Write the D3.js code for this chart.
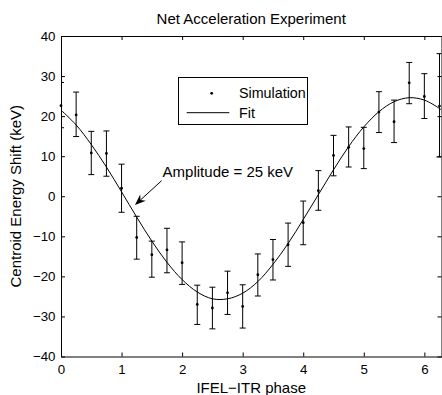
<!DOCTYPE html>
<html><head><meta charset="utf-8">
<script src="https://cdn.jsdelivr.net/npm/d3@7"></script>
<style>
html,body{margin:0;padding:0;background:#fff;}
svg{display:block;font-family:"Liberation Sans",Arial,sans-serif;}
</style></head>
<body><svg id="c" width="442" height="395"></svg>
<script>
// ---- data ----
const phase = [0,0.25,0.5,0.75,1,1.25,1.5,1.75,2,2.25,2.5,2.75,3,3.25,3.5,3.75,4,4.25,4.5,4.75,5,5.25,5.5,5.75,6,6.25];
const simulation = [22.6,20.3,10.8,10.7,2.0,-10.3,-14.6,-13.4,-16.6,-27.0,-27.9,-24.1,-27.5,-19.6,-15.8,-12.1,-6.6,1.4,10.2,12.2,11.9,21.0,18.6,28.3,24.9,22.5];
const upper = [28.4,26.0,16.2,16.3,8.0,-5.0,-11.2,-8.0,-11.4,-22.2,-22.7,-18.7,-22.1,-14.4,-10.8,-6.7,-1.2,6.4,15.2,17.3,17.2,26.1,24.0,33.4,30.6,35.6];
const lower = [17.1,14.9,5.4,5.0,-4.0,-15.7,-20.2,-19.1,-22.0,-32.0,-33.1,-29.5,-32.9,-24.9,-20.9,-17.5,-12.1,-3.5,5.1,7.3,6.9,15.9,13.4,23.1,19.4,9.8];
const fitPhase = [0,0.25,0.5,0.75,1,1.25,1.5,1.75,2,2.25,2.5,2.75,3,3.25,3.5,3.75,4,4.25,4.5,4.75,5,5.25,5.5,5.75,6,6.25,6.2832];
const fitValues = [21.5,17.8,12.9,7.3,1.1,-5.2,-11.2,-16.5,-20.8,-23.9,-25.6,-25.6,-24.2,-21.3,-17.0,-11.8,-5.8,0.4,6.6,12.4,17.3,21.1,23.6,24.6,24.0,21.9,21.5];
const xTicks = [0,1,2,3,4,5,6];
const xTickLabels = ["0","1","2","3","4","5","6"];
const yTicks = [-40,-30,-20,-10,0,10,20,30,40];
const yTickLabels = ["\u221240","\u221230","\u221220","\u221210","0","10","20","30","40"];
const titleText = "Net Acceleration Experiment";
const xLabelText = "IFEL\u2212ITR phase";
const yLabelText = "Centroid Energy Shift (keV)";
const legendLabels = ["Simulation","Fit"];
const annotationText = "Amplitude = 25 keV";
const annotationFrom = [1.662, 3.9];
const annotationTo = [1.221, -2.2];
const annotationTextPos = [1.678, 4.8];

// ---- layout ----
const L = 61, T = 36, R = 441.5, B = 356.5;
const svg = d3.select("#c");
const x = d3.scaleLinear().domain([0, 2*Math.PI]).range([L, R]);
const y = d3.scaleLinear().domain([-40, 40]).range([B, T]);

svg.append("rect").attr("width",442).attr("height",395).attr("fill","#fff");

svg.append("defs").append("clipPath").attr("id","clip")
  .append("rect").attr("x",L).attr("y",T).attr("width",R-L).attr("height",B-T);

// axes
const tickFont = "13.3px";
const gB = svg.append("g").attr("transform",`translate(0,${B})`)
  .call(d3.axisBottom(x).tickValues(xTicks).tickFormat((d,i)=>xTickLabels[i]).tickSizeInner(-4).tickSizeOuter(0).tickPadding(8.2));
const gT = svg.append("g").attr("transform",`translate(0,${T})`)
  .call(d3.axisTop(x).tickValues(xTicks).tickFormat("").tickSizeInner(-4).tickSizeOuter(0));
const gL = svg.append("g").attr("transform",`translate(${L},0)`)
  .call(d3.axisLeft(y).tickValues(yTicks).tickFormat((d,i)=>yTickLabels[i]).tickSizeInner(-4).tickSizeOuter(0).tickPadding(5.5));
const gR = svg.append("g").attr("transform",`translate(${R},0)`)
  .call(d3.axisRight(y).tickValues(yTicks).tickFormat("").tickSizeInner(-4).tickSizeOuter(0));
[gB,gT,gL,gR].forEach(g=>{
  g.selectAll("path.domain").attr("stroke","#000").attr("stroke-width",1);
  g.selectAll("line").attr("stroke","#000").attr("stroke-width",1);
  g.selectAll("text").attr("fill","#000").style("font-size",tickFont).style("font-family","'Liberation Sans',Arial,sans-serif");
});

// plot content
const plot = svg.append("g").attr("clip-path","url(#clip)");
const fitLine = d3.line().x((d,i)=>x(fitPhase[i])).y(d=>y(d)).curve(d3.curveCatmullRom.alpha(0.5));
plot.append("path").datum(fitValues).attr("d",fitLine).attr("fill","none").attr("stroke","#000").attr("stroke-width",1);

const cap = 3;
const eb = plot.append("g").attr("stroke","#000").attr("stroke-width",1);
phase.forEach((p,i)=>{
  const px = x(p);
  eb.append("line").attr("x1",px).attr("x2",px).attr("y1",y(upper[i])).attr("y2",y(lower[i]));
  eb.append("line").attr("x1",px-cap).attr("x2",px+cap).attr("y1",y(upper[i])).attr("y2",y(upper[i]));
  eb.append("line").attr("x1",px-cap).attr("x2",px+cap).attr("y1",y(lower[i])).attr("y2",y(lower[i]));
});
svg.append("g").selectAll("circle").data(simulation).join("circle")
  .attr("cx",(d,i)=>x(phase[i])).attr("cy",d=>y(d)).attr("r",1.4).attr("fill","#000");

// title & labels
svg.append("text").attr("x",(L+R)/2).attr("y",24).attr("text-anchor","middle")
  .style("font-size","15px").text(titleText);
svg.append("text").attr("x",(L+R)/2).attr("y",393).attr("text-anchor","middle")
  .style("font-size","15px").text(xLabelText);
svg.append("text").attr("transform",`translate(21,${(T+B)/2}) rotate(-90)`).attr("text-anchor","middle")
  .style("font-size","15px").text(yLabelText);

// legend
const lg = svg.append("g");
lg.append("rect").attr("x",178.5).attr("y",77.5).attr("width",129).attr("height",47)
  .attr("fill","#fff").attr("stroke","#000").attr("stroke-width",1);
lg.append("circle").attr("cx",211.7).attr("cy",93.3).attr("r",1.4).attr("fill","#000");
lg.append("line").attr("x1",186.7).attr("x2",229.3).attr("y1",112.7).attr("y2",112.7).attr("stroke","#000").attr("stroke-width",1);
lg.append("text").attr("x",239).attr("y",98.3).style("font-size","14.3px").text(legendLabels[0]);
lg.append("text").attr("x",239).attr("y",118).style("font-size","14.3px").text(legendLabels[1]);

// annotation
const ax0 = x(annotationFrom[0]), ay0 = y(annotationFrom[1]);
const ax1 = x(annotationTo[0]), ay1 = y(annotationTo[1]);
const ang = Math.atan2(ay1-ay0, ax1-ax0);
const hl = 11, hw = 4.2, notch = 7.5;
const bx = ax1 - hl*Math.cos(ang), by = ay1 - hl*Math.sin(ang);
const nx = ax1 - notch*Math.cos(ang), ny = ay1 - notch*Math.sin(ang);
const px_ = -Math.sin(ang), py_ = Math.cos(ang);
svg.append("line").attr("x1",ax0).attr("y1",ay0).attr("x2",nx).attr("y2",ny).attr("stroke","#000").attr("stroke-width",1);
svg.append("path").attr("d",`M${ax1},${ay1}L${bx+hw*px_},${by+hw*py_}L${nx},${ny}L${bx-hw*px_},${by-hw*py_}Z`).attr("fill","#000");
svg.append("text").attr("x",x(annotationTextPos[0])).attr("y",y(annotationTextPos[1]))
  .style("font-size","15px").text(annotationText);
</script></body></html>
